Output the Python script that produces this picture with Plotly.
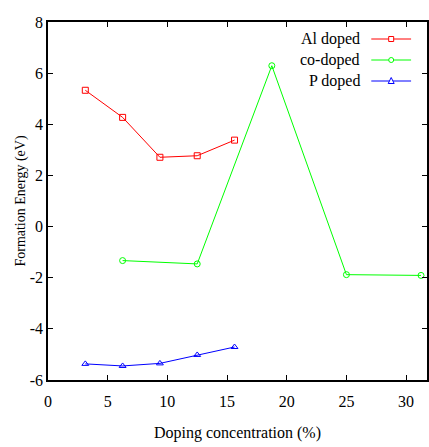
import plotly.graph_objects as go

# Data
al_x = [3.125, 6.25, 9.375, 12.5, 15.625]
al_y = [5.33, 4.27, 2.71, 2.77, 3.38]
co_x = [6.25, 12.5, 18.75, 25.0, 31.25]
co_y = [-1.33, -1.46, 6.29, -1.88, -1.91]
p_x = [3.125, 6.25, 9.375, 12.5, 15.625]
p_y = [-5.37, -5.45, -5.35, -5.02, -4.71]

x_ticks = [0, 5, 10, 15, 20, 25, 30]
y_ticks = [-6, -4, -2, 0, 2, 4, 6, 8]
y_ticktext = ["-6", "-4", "-2", "0", "2", "4", "6", "8"]

names = ["Al doped", "co-doped", "P doped"]
colors = ["#ff0000", "#00ff00", "#0000ff"]
symbols = ["square-open", "circle-open", "triangle-up-open"]

FONT = "Liberation Serif, Times New Roman, serif"

fig = go.Figure()
for xs, ys, nm, c, s in zip([al_x, co_x, p_x], [al_y, co_y, p_y], names, colors, symbols):
    fig.add_trace(go.Scatter(x=xs, y=ys, mode="lines+markers", name=nm,
                             line=dict(color=c, width=1),
                             marker=dict(symbol=s, size=6, color=c, line=dict(width=1, color=c)),
                             showlegend=False))

# Manual gnuplot-style legend (text left, sample right)
L, T, W, H = 48, 22, 381, 358
def px(x):
    return (x - L) / W
def py(y):
    return (T + H - y) / H

rows = [39, 60, 81]
for nm, c, s, ry in zip(names, colors, symbols, rows):
    fig.add_annotation(x=px(364), y=py(ry), xref="paper", yref="paper", text=nm,
                       showarrow=False, xanchor="right", yanchor="middle",
                       font=dict(family=FONT, size=16, color="#000000"))
    fig.add_shape(type="line", xref="paper", yref="paper",
                  x0=px(373), x1=px(413), y0=py(ry), y1=py(ry),
                  line=dict(color=c, width=1))
    cx, cy, r = 393, ry, 2.5
    if s.startswith("square"):
        fig.add_shape(type="rect", xref="paper", yref="paper",
                      x0=px(cx - r), x1=px(cx + r), y0=py(cy - r), y1=py(cy + r),
                      line=dict(color=c, width=1), fillcolor="white")
    elif s.startswith("circle"):
        fig.add_shape(type="circle", xref="paper", yref="paper",
                      x0=px(cx - r), x1=px(cx + r), y0=py(cy - r), y1=py(cy + r),
                      line=dict(color=c, width=1), fillcolor="white")
    else:
        path = "M {} {} L {} {} L {} {} Z".format(px(cx - r - 0.5), py(cy + r), px(cx + r + 0.5), py(cy + r), px(cx), py(cy - r - 1))
        fig.add_shape(type="path", xref="paper", yref="paper", path=path,
                      line=dict(color=c, width=1), fillcolor="white")

fig.update_layout(
    width=429, height=447,
    margin=dict(l=L, r=0, t=T, b=447 - T - H),
    paper_bgcolor="white", plot_bgcolor="white",
    font=dict(family=FONT, size=16, color="#000000"),
    xaxis=dict(range=[0, 31.75], tickvals=x_ticks, ticks="inside", ticklen=5, tickwidth=1,
               showline=True, linecolor="#000000", linewidth=1.5, mirror="allticks",
               showgrid=False, zeroline=False, tickcolor="#000000", ticklabelstandoff=6,
               title=dict(text="Doping concentration (%)", font=dict(size=16), standoff=18)),
    yaxis=dict(range=[-6, 8], tickvals=y_ticks, ticktext=y_ticktext, ticks="inside", ticklen=5, tickwidth=1,
               showline=True, linecolor="#000000", linewidth=1.5, mirror="ticks",
               showgrid=False, zeroline=False, tickcolor="#000000",
               title=dict(text="Formation Energy (eV)", font=dict(size=14), standoff=1)),
)

fig.write_html("out.html")
